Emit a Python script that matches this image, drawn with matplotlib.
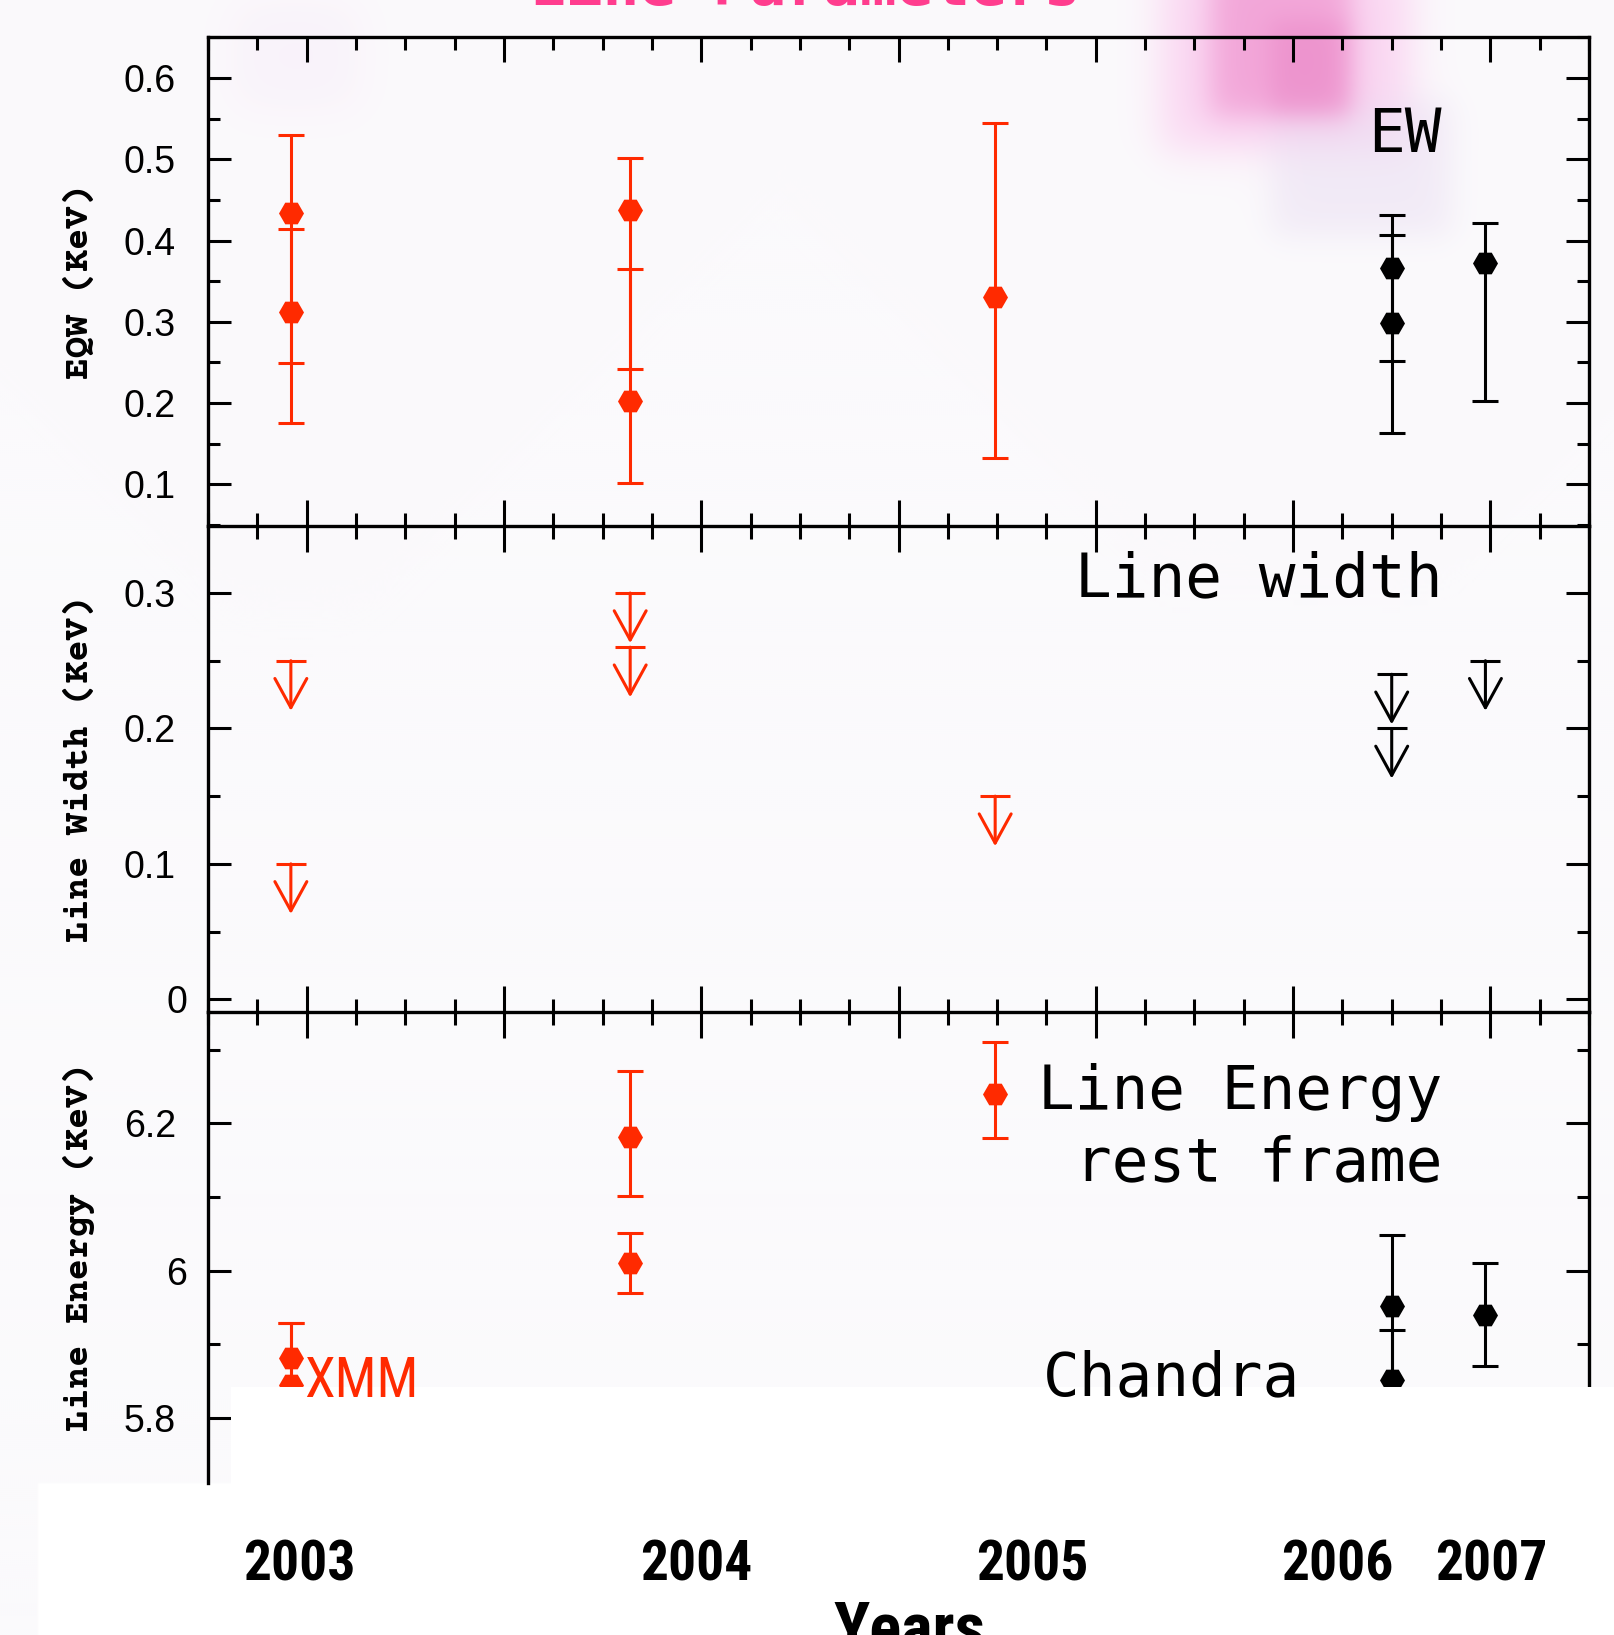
import numpy as np
import matplotlib
matplotlib.use("Agg")
import matplotlib.pyplot as plt
from matplotlib.patches import Rectangle
from matplotlib.ticker import MultipleLocator
from matplotlib import transforms

# observation epochs on the time axis
xmm_t = [-0.08, -0.08, 1.64, 1.64, 3.49]
chandra_t = [5.50, 5.50, 5.975]

# equivalent width (keV) and error bounds
xmm_eqw = [0.434, 0.312, 0.438, 0.202, 0.330]
xmm_eqw_lo = [0.249, 0.176, 0.242, 0.102, 0.133]
xmm_eqw_hi = [0.530, 0.414, 0.502, 0.365, 0.545]
chandra_eqw = [0.366, 0.299, 0.372]
chandra_eqw_lo = [0.252, 0.163, 0.203]
chandra_eqw_hi = [0.431, 0.407, 0.421]

# line width upper limits (keV)
xmm_width_ul = [0.25, 0.10, 0.30, 0.26, 0.15]
chandra_width_ul = [0.24, 0.20, 0.25]

# rest-frame line energy (keV)
xmm_energy = [5.881, 5.845, 6.181, 6.010, 6.240]
xmm_energy_lo = [5.800, 5.780, 6.102, 5.970, 6.180]
xmm_energy_hi = [5.929, 5.929, 6.271, 6.051, 6.310]
chandra_energy = [5.952, 5.852, 5.940]
chandra_energy_lo = [5.800, 5.780, 5.871]
chandra_energy_hi = [6.049, 5.919, 6.010]

eqw_ticks = [0.1, 0.2, 0.3, 0.4, 0.5, 0.6]
width_ticks = [0.0, 0.1, 0.2, 0.3]
energy_ticks = [5.8, 6.0, 6.2]
year_labels = ["2003", "2004", "2005", "2006", "2007"]

RED = "#ff2a00"
BLACK = "black"
LW = 2.2
ARROW_LEN = 0.037
ENERGY_CUT = 5.842   # everything below this is blanked out

W, H = 1614, 1635
fig = plt.figure(figsize=(W / 100, H / 100), dpi=100)
fig.patch.set_facecolor("white")

# --- faint background wash with the pink smear near the top ---
yy, xx = np.mgrid[0:H:2, 0:W:2].astype(float)


def soft_box(x0, x1, y0, y1, s):
    fx = 0.5 * (1 + np.tanh((xx - x0) / s)) * 0.5 * (1 + np.tanh((x1 - xx) / s))
    fy = 0.5 * (1 + np.tanh((yy - y0) / s)) * 0.5 * (1 + np.tanh((y1 - yy) / s))
    return fx * fy


bg_img = np.ones(xx.shape + (3,)) * np.array([251, 250, 252]) / 255.0
haze = [
    ((1160, 1410, -40, 150, 25), (250, 200, 238), 0.7),
    ((1270, 1450, 100, 235, 20), (234, 222, 242), 0.55),
    ((1210, 1350, -40, 115, 18), (240, 150, 208), 0.75),
    ((1270, 1345, 20, 110, 15), (232, 130, 195), 0.5),
    ((230, 360, 0, 110, 30), (246, 228, 246), 0.35),
]
for (x0, x1, y0, y1, s), rgb, alpha in haze:
    a = alpha * soft_box(x0, x1, y0, y1, s)[..., None]
    bg_img = bg_img * (1 - a) + np.array(rgb) / 255.0 * a
bg_img[(yy >= 1483) & (xx >= 37)] = 1.0

bg = fig.add_axes([0, 0, 1, 1], zorder=-10)
bg.imshow(bg_img, extent=(0, W, H, 0), aspect="auto", interpolation="bilinear")
bg.set_xlim(0, W)
bg.set_ylim(H, 0)
bg.axis("off")

# --- three stacked panels ---
left, width = 208 / W, (1589 - 208) / W
ax1 = fig.add_axes([left, 1 - 526 / H, width, (526 - 37) / H])
ax2 = fig.add_axes([left, 1 - 1012 / H, width, (1012 - 526) / H], sharex=ax1)
ax3 = fig.add_axes([left, 1 - 1483 / H, width, (1483 - 1012) / H], sharex=ax1)

ax1.set_xlim(-0.5, 6.5)
ax1.set_ylim(0.0487, 0.6505)
ax2.set_ylim(-0.0094, 0.3495)
ax3.set_ylim(5.712, 6.351)

tick_family = ["Liberation Sans", "DejaVu Sans"]
label_font = dict(family=["Courier Prime", "Liberation Mono", "DejaVu Sans Mono"],
                  weight="bold", size=26)

for ax, ticks, minor, ylab in [(ax1, eqw_ticks, 0.05, "EQW (KeV)"),
                               (ax2, width_ticks, 0.05, "Line Width (KeV)"),
                               (ax3, energy_ticks, 0.1, "Line Energy (KeV)")]:
    ax.set_facecolor("none")
    for sp in ax.spines.values():
        sp.set_linewidth(2.4)
    ax.set_yticks(ticks, labels=[f"{t:g}" for t in ticks])
    ax.yaxis.set_minor_locator(MultipleLocator(minor))
    ax.xaxis.set_major_locator(MultipleLocator(1))
    ax.xaxis.set_minor_locator(MultipleLocator(0.25))
    ax.tick_params(axis="y", which="both", direction="in", left=True, right=True,
                   width=LW, pad=23)
    ax.tick_params(axis="y", which="major", length=16.6)
    ax.tick_params(axis="y", which="minor", length=8.6)
    for lab in ax.get_yticklabels():
        lab.set_fontfamily(tick_family)
        lab.set_fontsize(27)
    ax.set_ylabel(ylab, **label_font)
    ax.yaxis.set_label_coords(-0.082, 0.5)

# top panel: inward ticks on the upper edge only
ax1.tick_params(axis="x", which="both", direction="in", top=True, bottom=False,
                labeltop=False, labelbottom=False, width=LW)
ax1.tick_params(axis="x", which="major", length=18)
ax1.tick_params(axis="x", which="minor", length=9.4)

# middle panel: ticks straddling both shared edges
ax2.spines["top"].set_visible(False)
ax2.tick_params(axis="x", which="both", direction="inout", top=True, bottom=True,
                labeltop=False, labelbottom=False, width=LW)
ax2.tick_params(axis="x", which="major", length=37)
ax2.tick_params(axis="x", which="minor", length=18.7)

ax3.spines["top"].set_visible(False)
ax3.spines["bottom"].set_visible(False)
ax3.spines["right"].set_bounds(ENERGY_CUT, 6.351)
ax3.tick_params(axis="x", which="both", top=False, bottom=False,
                labeltop=False, labelbottom=False)

# integer tick labels sit a little further right
shift = transforms.ScaledTranslation(0.11, 0, fig.dpi_scale_trans)
for ax in (ax2, ax3):
    for lab in ax.get_yticklabels():
        if "." not in lab.get_text():
            lab.set_transform(lab.get_transform() + shift)

eb = dict(fmt="H", ms=18, elinewidth=LW, capsize=9.4, capthick=LW, zorder=3)


def draw_points(ax, t, y, lo, hi, color):
    y, lo, hi = np.asarray(y), np.asarray(lo), np.asarray(hi)
    cont = ax.errorbar(t, y, yerr=[y - lo, hi - y], color=color, ecolor=color, **eb)
    cont[0].set_markeredgewidth(0)


def draw_limits(ax, t, ul, color):
    for ti, u in zip(t, ul):
        ax.plot(ti, u, marker="_", ms=21.5, mew=LW, color=color, zorder=3)
        ax.annotate("", xy=(ti, u - ARROW_LEN), xytext=(ti, u),
                    arrowprops=dict(arrowstyle="->,head_length=21,head_width=11.5",
                                    mutation_scale=1, lw=LW, color=color,
                                    shrinkA=0, shrinkB=0), zorder=3)


draw_points(ax1, xmm_t, xmm_eqw, xmm_eqw_lo, xmm_eqw_hi, RED)
draw_points(ax1, chandra_t, chandra_eqw, chandra_eqw_lo, chandra_eqw_hi, BLACK)
draw_limits(ax2, xmm_t, xmm_width_ul, RED)
draw_limits(ax2, chandra_t, chandra_width_ul, BLACK)
draw_points(ax3, xmm_t, xmm_energy, xmm_energy_lo, xmm_energy_hi, RED)
draw_points(ax3, chandra_t, chandra_energy, chandra_energy_lo, chandra_energy_hi, BLACK)

# blank strip over the lower part of the energy panel, out to the figure edge
blank = transforms.blended_transform_factory(ax3.transAxes, ax3.transData)
ax3.add_patch(Rectangle((0.017, 5.70), 1.01, ENERGY_CUT - 5.70, transform=blank,
                        facecolor="white", edgecolor="none", zorder=5, clip_on=False))

mono = dict(family=["DejaVu Sans Mono"], size=44)
ax1.text(0.8936, 0.7658, "EW", transform=ax1.transAxes, ha="right", va="baseline", **mono)
ax2.text(0.8936, 0.856, "Line width", transform=ax2.transAxes, ha="right",
         va="baseline", **mono)
ax3.text(0.8936, 0.794, "Line Energy", transform=ax3.transAxes, ha="right",
         va="baseline", **mono)
ax3.text(0.8936, 0.6418, "rest frame", transform=ax3.transAxes, ha="right",
         va="baseline", **mono)
ax3.text(0.6046, 0.1868, "Chandra", transform=ax3.transAxes, ha="left",
         va="baseline", zorder=6, **mono)

narrow = ["Roboto Condensed", "PT Sans Narrow", "DejaVu Sans"]
ax3.text(0.0695, 0.1826, "XMM", transform=ax3.transAxes, ha="left", va="baseline",
         color=RED, family=narrow, size=40, zorder=6)

# year labels and axis title along the bottom
for xpix, yr in zip([299, 696.5, 1032, 1337.7, 1491], year_labels):
    fig.text(xpix / W, 1 - 1580 / H, yr, ha="center", va="baseline",
             family=narrow, weight="bold", size=40)
fig.text(909 / W, 1 - 1649 / H, "Years", ha="center", va="baseline",
         family=narrow, weight="bold", size=48)

fig.text(805 / W, 1 - 5 / H, "Line Parameters", ha="center", va="baseline",
         color="#ff3d8e", family=["DejaVu Sans Mono"], weight="bold", size=44)

fig.savefig("out.png", dpi=100, facecolor=fig.get_facecolor())
